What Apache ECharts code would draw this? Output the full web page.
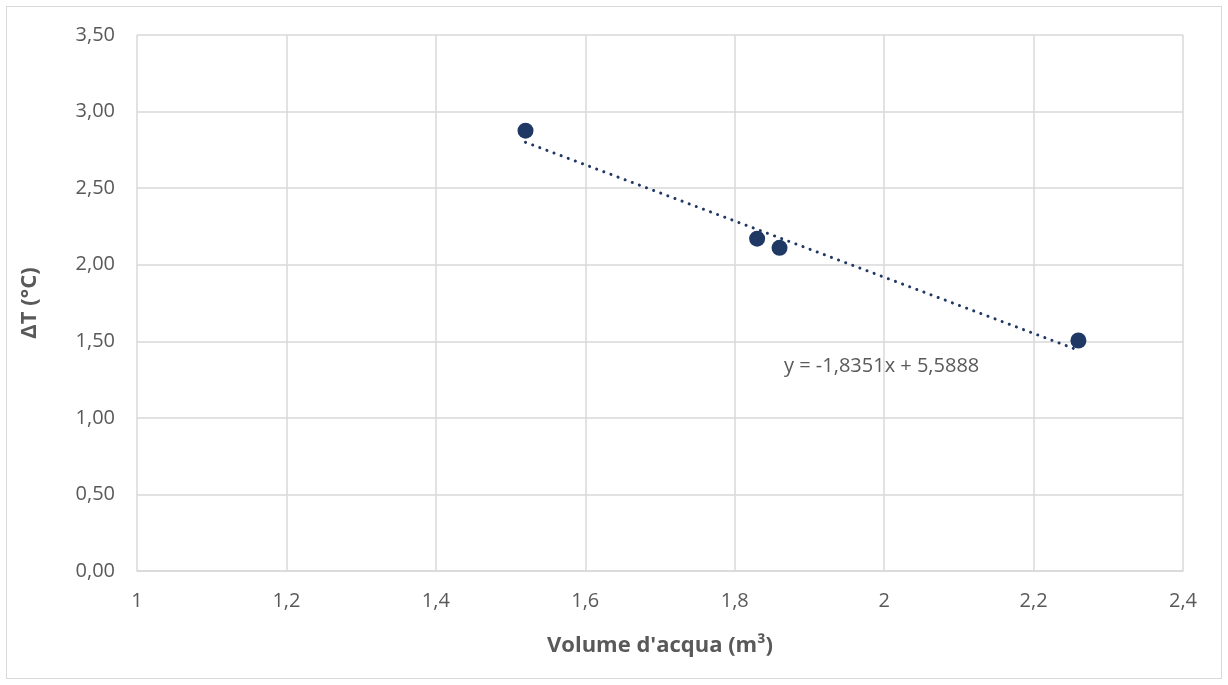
<!DOCTYPE html>
<html>
<head>
<meta charset="utf-8">
<script src="https://cdn.jsdelivr.net/npm/echarts@6/dist/echarts.min.js"></script>
<style>
  html, body { margin: 0; padding: 0; background: #fff; }
  #frame { position: absolute; left: 6px; top: 6px; width: 1216px; height: 673px; border: 1px solid #d9d9d9; box-sizing: border-box; }
  #chart { width: 1228px; height: 685px; }
</style>
</head>
<body>
<div id="frame"></div>
<div id="chart"></div>
<script>
// punti misurati: volume d'acqua (m³), ΔT (°C)
const volumes = [1.52, 1.83, 1.86, 2.26];
const deltaT = [2.875, 2.17, 2.11, 1.505];
// linea di tendenza: y = -1,8351x + 5,5888 (estremi)
const trendX = [1.52, 2.26];
const trendY = [2.7994, 1.4415];
const equation = "y = -1,8351x + 5,5888";

const points = volumes.map((v, i) => [v, deltaT[i]]);
const trend = trendX.map((v, i) => [v, trendY[i]]);

const fmt = (v, d) => v.toFixed(d).replace(".", ",");
const textColor = "#595959";
const font = "'Open Sans', 'Noto Sans', sans-serif";

const chart = echarts.init(document.getElementById("chart"));
chart.setOption({
  animation: false,
  textStyle: { fontFamily: font },
  grid: { left: 137, right: 45, top: 35, bottom: 114 },
  xAxis: {
    type: "value",
    min: 1,
    max: 2.4,
    interval: 0.2,
    name: "Volume d'acqua (m³)",
    nameLocation: "middle",
    nameGap: 64,
    nameTextStyle: { color: textColor, fontSize: 22, fontWeight: "bold", fontFamily: font },
    axisLine: { show: true, lineStyle: { color: "#d9d9d9", width: 1.5 } },
    axisTick: { show: false },
    axisLabel: {
      color: textColor, fontSize: 20, margin: 20, fontFamily: font,
      formatter: (v) => (Number.isInteger(Math.round(v * 10) / 10) ? String(Math.round(v)) : fmt(v, 1))
    },
    splitLine: { show: true, lineStyle: { color: "#d9d9d9", width: 1.5 } }
  },
  yAxis: {
    type: "value",
    min: 0,
    max: 3.5,
    interval: 0.5,
    name: "ΔT (°C)",
    nameLocation: "middle",
    nameGap: 96,
    nameRotate: 90,
    nameTextStyle: { color: textColor, fontSize: 22, fontWeight: "bold", fontFamily: font },
    axisLine: { show: false },
    axisTick: { show: false },
    axisLabel: { color: textColor, fontSize: 20, margin: 22, fontFamily: font, formatter: (v) => fmt(v, 2) },
    splitLine: { show: true, lineStyle: { color: "#d9d9d9", width: 1.5 } }
  },
  series: [
    {
      type: "line",
      data: trend,
      symbol: "none",
      lineStyle: { color: "#203864", width: 3, type: [0.1, 7.5], cap: "round" },
      z: 2
    },
    {
      type: "scatter",
      data: points,
      symbol: "circle",
      symbolSize: 16,
      itemStyle: { color: "#203864", opacity: 1 },
      z: 3
    }
  ],
  graphic: [
    {
      type: "text",
      left: 784,
      top: 356,
      style: { text: equation, fill: textColor, fontSize: 20, fontFamily: font }
    }
  ]
});
</script>
</body>
</html>
